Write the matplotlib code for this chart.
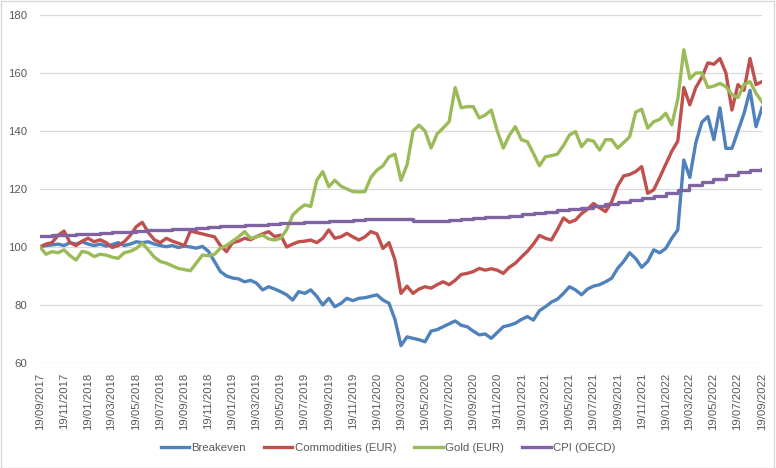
import numpy as np
import pandas as pd
import matplotlib
matplotlib.use("Agg")
import matplotlib.pyplot as plt
from matplotlib.patches import Rectangle

# half-monthly readings, 19/09/2017 -> 19/09/2022
dates = pd.date_range('2017-09-19', '2022-09-19', periods=121)

breakeven = [100, 100.5, 100.7, 101, 100.5, 101.5, 101, 101.8, 101, 100.5,
             101, 100.3, 100.8, 101.5, 100.5, 101, 101.8, 101.5, 101.8, 101,
             100.5, 100.1, 100.5, 99.8, 100.3, 100, 99.6, 100.2, 98.5, 95,
             91.5, 90, 89.3, 89, 88, 88.5, 87.5, 85.2, 86.3, 85.5,
             84.6, 83.5, 81.7, 84.6, 84, 85.2, 83, 80, 82.3, 79.4,
             80.5, 82.3, 81.5, 82.3, 82.5, 83, 83.5, 81.7, 80.6, 75,
             66, 69, 68.5, 68, 67.3, 71, 71.5, 72.5, 73.5, 74.5,
             73, 72.5, 71, 69.7, 70, 68.5, 70.5, 72.5, 73, 73.7,
             75, 76, 74.8, 78, 79.4, 81, 82, 84, 86.3, 85.2,
             83.5, 85.5, 86.5, 87, 88, 89.2, 92.6, 95, 98, 96,
             93, 95, 99, 98, 99.5, 103, 105.9, 130, 124, 136,
             143, 145, 137, 148, 134, 134, 140, 146, 154, 141.5,
             148]

commodities = [100, 101, 101.5, 104, 105.5, 101.5, 100.5, 102, 103, 101.8,
               102.5, 101.5, 99.8, 100.5, 101.8, 104, 107, 108.5, 105, 102.5,
               101.5, 103, 102, 101.3, 100.5, 105.5, 105, 104.5, 104, 103.5,
               100.5, 98.4, 101.5, 102, 103, 102.5, 103.6, 104.5, 105.3, 103.6,
               104.1, 100, 101, 101.8, 102, 102.4, 101.5, 103, 105.9, 103,
               103.5, 104.7, 103.5, 102.4, 103.5, 105.3, 104.5, 99.5, 101.5, 95.5,
               84, 86.5, 84, 85.5, 86.3, 85.8, 87, 88, 87, 88.5,
               90.5, 90.9, 91.5, 92.6, 92, 92.5, 92, 90.9, 93, 94.4,
               96.5, 98.5, 101, 104, 103, 102.4, 106, 110, 108.5, 109.3,
               111.5, 113, 115, 113.5, 112.2, 115.5, 121, 124.5, 125, 126,
               127.7, 118.5, 119.7, 124, 128.5, 133, 136.5, 155, 149, 155,
               158.5, 163.5, 163, 165, 160, 147.2, 156, 154, 165, 156,
               157]

gold = [100, 97.5, 98.4, 98, 99, 97, 95.5, 98.5, 98, 96.7,
        97.5, 97.2, 96.5, 96.1, 98, 98.5, 99.5, 101.3, 99, 96.5,
        95, 94.4, 93.5, 92.6, 92.2, 91.8, 94.5, 97.2, 97, 97.5,
        99.6, 100.5, 102, 103.5, 105.3, 103, 103.5, 104.1, 102.8, 102.4,
        103, 106, 111, 113, 114.5, 114, 123, 126, 120.8, 123,
        121, 120, 119.1, 119, 119.1, 124, 126.5, 128, 131.1, 132,
        123, 128.3, 140, 142, 140, 134.1, 139, 141, 143.2, 155,
        148, 148.4, 148.4, 144.5, 145.5, 147.2, 140, 134.1, 138.5, 141.5,
        137, 136.3, 132.3, 128, 131.1, 131.5, 132, 135, 138.6, 139.8,
        134.6, 137, 136.5, 133.4, 137, 137, 134.1, 136, 138, 146.5,
        147.5, 141, 143.2, 144, 146.1, 142.1, 151, 168, 158, 160,
        160, 155, 155.5, 156.4, 155.3, 152.5, 151.5, 156, 157, 153,
        150]

# monthly CPI index
cpi_dates = pd.date_range('2017-09-19', periods=61, freq=pd.DateOffset(months=1))
cpi = [103.8, 104.0, 104.2, 104.4, 104.6, 104.9, 105.1, 105.3, 105.5, 105.7,
       105.9, 106.1, 106.3, 106.5, 106.8, 107.1, 107.3, 107.5, 107.7, 107.9,
       108.1, 108.3, 108.5, 108.7, 108.9, 109.1, 109.3, 109.5, 109.6, 109.8,
       109.5, 109.1, 109.0, 109.0, 109.3, 109.6, 109.9, 110.2, 110.5, 110.8,
       111.2, 111.6, 112.1, 112.7, 113.2, 113.6, 114.2, 114.9, 115.6, 116.3,
       116.8, 117.6, 118.6, 119.7, 121.2, 122.4, 123.6, 124.8, 125.7, 126.5,
       127.0]

tick_dates = pd.date_range('2017-09-19', periods=31, freq=pd.DateOffset(months=2))

plt.rcParams['font.family'] = ['Liberation Sans', 'DejaVu Sans']

fig = plt.figure(figsize=(7.76, 4.68), dpi=100)
ax = fig.add_axes([0.0515, 0.2244, 0.9305, 0.7436])

ax.plot(dates, breakeven, color='#4F81BD', lw=2.4, label='Breakeven')
ax.plot(dates, commodities, color='#C0504D', lw=2.4, label='Commodities (EUR)')
ax.plot(dates, gold, color='#9BBB59', lw=2.4, label='Gold (EUR)')
ax.plot(cpi_dates, cpi, color='#8064A2', lw=2.4, drawstyle='steps-post', label='CPI (OECD)')

ax.set_xlim(dates[0], dates[-1])
ax.set_ylim(60, 180)
ax.set_yticks(np.arange(60, 181, 20))
ax.set_xticks(tick_dates)
ax.set_xticklabels([d.strftime('%d/%m/%Y') for d in tick_dates], rotation=90)
ax.tick_params(axis='x', length=0, pad=7, labelsize=8.2, colors='#595959')
ax.tick_params(axis='y', length=0, pad=9, labelsize=8.2, colors='#595959')
ax.grid(axis='y', color='#d9d9d9', lw=0.9)
ax.set_axisbelow(True)
for s in ax.spines.values():
    s.set_visible(False)

ax.legend(loc='lower center', bbox_to_anchor=(0.5, 0.01), bbox_transform=fig.transFigure,
          ncol=4, frameon=False, fontsize=8.2, handlelength=2.5, handletextpad=0.2,
          columnspacing=1.6, labelcolor='#595959')

fig.patches.append(Rectangle((0.001, 0.001), 0.997, 0.997, transform=fig.transFigure,
                             fill=False, edgecolor='#d9d9d9', lw=1))

fig.savefig('out.png', dpi=100)
